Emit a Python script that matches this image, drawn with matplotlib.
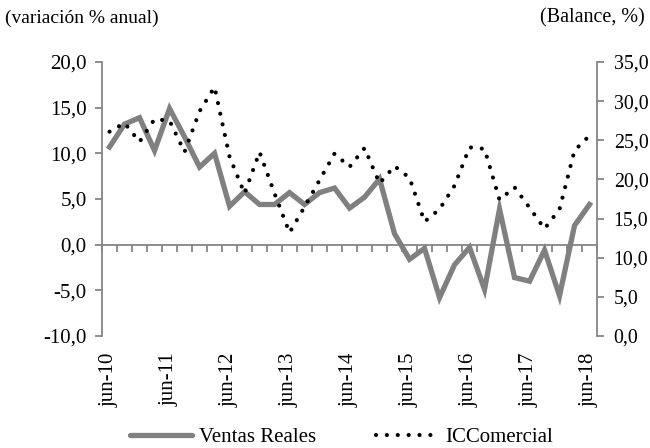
import matplotlib
matplotlib.use("Agg")
import matplotlib.pyplot as plt
from matplotlib.ticker import FixedLocator, FuncFormatter
from matplotlib.lines import Line2D

plt.rcParams['font.family'] = ['Liberation Serif', 'DejaVu Serif']

# quarterly categories jun-10 .. jun-18
categories = ['jun-10', 'sep-10', 'dic-10', 'mar-11', 'jun-11', 'sep-11', 'dic-11', 'mar-12',
              'jun-12', 'sep-12', 'dic-12', 'mar-13', 'jun-13', 'sep-13', 'dic-13', 'mar-14',
              'jun-14', 'sep-14', 'dic-14', 'mar-15', 'jun-15', 'sep-15', 'dic-15', 'mar-16',
              'jun-16', 'sep-16', 'dic-16', 'mar-17', 'jun-17', 'sep-17', 'dic-17', 'mar-18',
              'jun-18']
ventas = [10.7, 13.2, 13.9, 10.3, 14.9, 11.8, 8.5, 10.0, 4.2, 5.8, 4.4, 4.4, 5.7, 4.4, 5.7, 6.2,
          4.0, 5.2, 7.2, 1.2, -1.6, -0.4, -5.8, -2.2, -0.3, -4.9, 3.9, -3.6, -4.0, -0.6, -5.6,
          2.1, 4.4]
icc = [26.1, 27.2, 24.8, 27.7, 27.5, 23.5, 28.7, 31.8, 22.9, 18.2, 23.5, 18.2, 13.2, 16.5,
       19.9, 23.3, 21.6, 24.0, 19.5, 21.7, 20.2, 14.6, 16.2, 19.2, 24.1, 23.9, 17.4, 19.0,
       16.4, 13.7, 16.2, 23.7, 25.6]
shown_labels = ['jun-10', 'jun-11', 'jun-12', 'jun-13', 'jun-14', 'jun-15', 'jun-16', 'jun-17', 'jun-18']
left_ticks = [-10, -5, 0, 5, 10, 15, 20]
right_ticks = [0, 5, 10, 15, 20, 25, 30, 35]

GREY = '#808080'
AX_GREY = '#868686'
FS = 15
DOTS = (0, (0.01, 2.6))

fig = plt.figure(figsize=(6.5, 4.48), dpi=100)
ax = fig.add_axes([0.157, 0.25, 0.9185 - 0.157, 0.8616 - 0.25])
ax2 = ax.twinx()

x = list(range(len(categories)))
lv, = ax.plot(x, ventas, color=GREY, lw=3.8, solid_joinstyle='miter', zorder=3)
li, = ax2.plot(x, icc, color='black', lw=3.0, linestyle=DOTS,
               dash_capstyle='round', zorder=4)

ax.set_xlim(-0.5, len(categories) - 0.5)
ax.set_ylim(-10, 20)
ax2.set_ylim(0, 35)

fmt = FuncFormatter(lambda v, p: f"{v:.1f}".replace('.', ','))
ax.yaxis.set_major_locator(FixedLocator(left_ticks))
ax.yaxis.set_major_formatter(fmt)
ax2.yaxis.set_major_locator(FixedLocator(right_ticks))
ax2.yaxis.set_major_formatter(fmt)

for a in (ax, ax2):
    a.spines['top'].set_visible(False)
    a.patch.set_visible(False)
ax2.spines['bottom'].set_visible(False)
ax2.spines['left'].set_visible(False)
ax.spines['right'].set_visible(False)
ax.spines['left'].set_color(AX_GREY)
ax2.spines['right'].set_color(AX_GREY)
ax.spines['left'].set_linewidth(1.3)
ax2.spines['right'].set_linewidth(1.3)

ax.tick_params(axis='y', direction='out', length=5, width=1.3, color=AX_GREY,
               labelsize=FS, pad=6)
ax2.tick_params(axis='y', direction='out', length=5, width=1.3, color=AX_GREY,
                labelsize=14.3, pad=7)

# category axis drawn at zero with ticks between categories
ax.spines['bottom'].set_position(('data', 0))
ax.spines['bottom'].set_color(AX_GREY)
ax.spines['bottom'].set_linewidth(1.3)
ax.xaxis.set_major_locator(FixedLocator([i - 0.5 for i in range(len(categories) + 1)]))
ax.tick_params(axis='x', direction='out', length=5, width=1.3, color=AX_GREY,
               labelbottom=False)

sec = ax.secondary_xaxis('bottom')
sec.spines['bottom'].set_visible(False)
sec.set_xticks([categories.index(l) for l in shown_labels])
sec.set_xticklabels(shown_labels, rotation=90, fontsize=FS)
sec.tick_params(axis='x', length=0, pad=12)

fig.text(5 / 650, 1 - 18 / 448, '(variación % anual)', fontsize=14, ha='left', va='center')
fig.text(645 / 650, 1 - 18 / 448, '(Balance, %)', fontsize=14.5, ha='right', va='center')

h1 = Line2D([], [], color=GREY, lw=3.8, solid_capstyle='round')
h2 = Line2D([], [], color='black', lw=3.0, linestyle=DOTS, dash_capstyle='round')
fig.legend([h1, h2], ['Ventas Reales', 'ICComercial'], loc='center',
           bbox_to_anchor=(0.525, 1 - 437 / 448), ncol=2, frameon=False, fontsize=FS,
           handlelength=3.0, handletextpad=0.3, columnspacing=2.9, borderpad=0)

fig.savefig('out.png', dpi=100)
